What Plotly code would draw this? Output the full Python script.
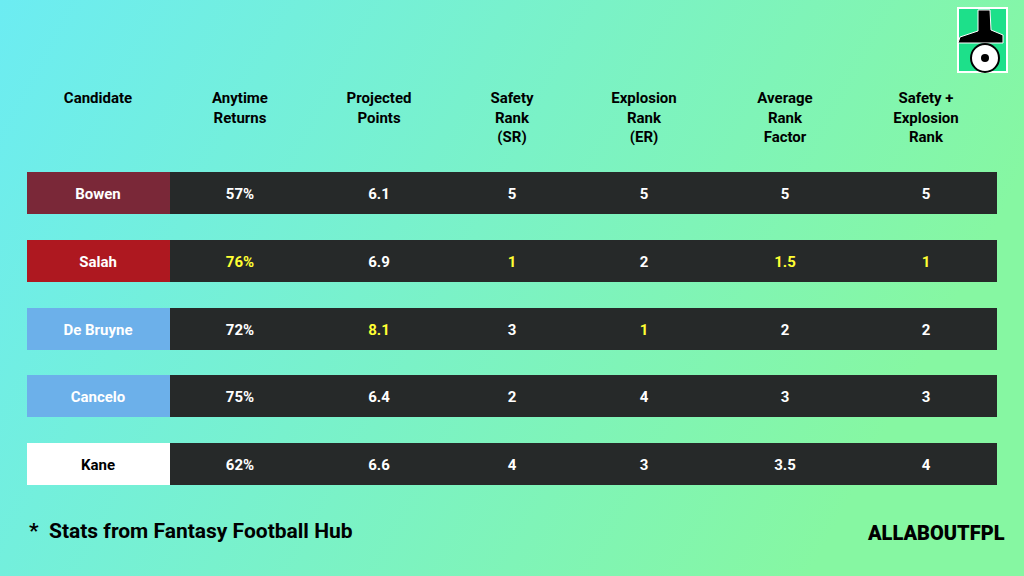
import plotly.graph_objects as go
import base64

players = ["Bowen", "Salah", "De Bruyne", "Cancelo", "Kane"]
anytime = ["57%", "76%", "72%", "75%", "62%"]
projected = ["6.1", "6.9", "8.1", "6.4", "6.6"]
safety = ["5", "1", "3", "2", "4"]
explosion = ["5", "2", "1", "4", "3"]
avg_rank = ["5", "1.5", "2", "3", "3.5"]
se_rank = ["5", "1", "2", "3", "4"]
headers = ["Candidate", "Anytime<br>Returns", "Projected<br>Points", "Safety<br>Rank<br>(SR)",
           "Explosion<br>Rank<br>(ER)", "Average<br>Rank<br>Factor", "Safety +<br>Explosion<br>Rank"]
name_colors = ["#7a2838", "#ae1820", "#6cb0ea", "#6cb0ea", "#ffffff"]
name_text = ["white", "white", "white", "white", "black"]
highlights = {(1, 1), (1, 3), (1, 5), (1, 6), (2, 2), (2, 4)}

col_x = [98, 240, 379, 512, 644, 785, 926]
row_y = [193, 261, 329, 396, 464]
row_h = 42

svg = ('<svg xmlns="http://www.w3.org/2000/svg" width="1024" height="576">'
       '<defs><linearGradient id="g" x1="0" y1="0" x2="1" y2="0.3">'
       '<stop offset="0" stop-color="#6cecf2"/><stop offset="1" stop-color="#86f7a2"/>'
       '</linearGradient></defs><rect width="1024" height="576" fill="url(#g)"/></svg>')
bg = "data:image/svg+xml;base64," + base64.b64encode(svg.encode()).decode()

fig = go.Figure()
shapes = []
for i, y in enumerate(row_y):
    shapes.append(dict(type="rect", x0=170, x1=997, y0=y - row_h / 2, y1=y + row_h / 2,
                       fillcolor="#262929", line_width=0, layer="below"))
    shapes.append(dict(type="rect", x0=27, x1=170, y0=y - row_h / 2, y1=y + row_h / 2,
                       fillcolor=name_colors[i], line_width=0, layer="below"))
shapes.append(dict(type="rect", x0=958, x1=1007, y0=8, y1=72, fillcolor="#1de08a",
                   line=dict(color="white", width=2)))
shapes.append(dict(type="path", path="M 978 10 L 990 10 L 991 30 L 1003 35 L 1003 43 L 958 43 L 960 37 L 978 31 Z",
                   fillcolor="black", line=dict(color="white", width=1)))
shapes.append(dict(type="circle", x0=971, x1=999, y0=44, y1=72, fillcolor="white",
                   line=dict(color="black", width=2)))
shapes.append(dict(type="circle", x0=981, x1=989, y0=54, y1=62, fillcolor="black", line_width=0))

fig.add_trace(go.Scatter(x=col_x, y=[92] * 7, text=headers, mode="text", textposition="bottom center",
                         textfont=dict(family="Roboto", size=15, color="black", weight="bold"),
                         hoverinfo="skip"))
cols = [players, anytime, projected, safety, explosion, avg_rank, se_rank]
xs, ys, ts, cs = [], [], [], []
for c, vals in enumerate(cols):
    for r, v in enumerate(vals):
        xs.append(col_x[c]); ys.append(row_y[r] + 2); ts.append(v)
        if c == 0:
            cs.append(name_text[r])
        elif (r, c) in highlights:
            cs.append("#ffff33")
        else:
            cs.append("white")
fig.add_trace(go.Scatter(x=xs, y=ys, text=ts, mode="text",
                         textfont=dict(family="Roboto", size=15, color=cs, weight="bold"),
                         hoverinfo="skip"))

fig.add_annotation(x=27, y=531, xanchor="left", showarrow=False,
                   text="*  Stats from Fantasy Football Hub",
                   font=dict(family="Roboto", size=21, color="black", weight="bold"))
fig.add_annotation(x=1007, y=533, xanchor="right", showarrow=False, text="ALLABOUTFPL",
                   font=dict(family="Roboto", size=20, color="black", weight=900))

fig.update_layout(width=1024, height=576, margin=dict(l=0, r=0, t=0, b=0),
                  showlegend=False, shapes=shapes,
                  paper_bgcolor="#70eedc", plot_bgcolor="rgba(0,0,0,0)",
                  images=[dict(source=bg, xref="paper", yref="paper", x=0, y=1, sizex=1, sizey=1,
                               sizing="stretch", layer="below", xanchor="left", yanchor="top")],
                  xaxis=dict(range=[0, 1024], visible=False, fixedrange=True),
                  yaxis=dict(range=[576, 0], visible=False, fixedrange=True))
html = fig.to_html(config={"displayModeBar": False})
html = html.replace("<head>", "<head><style>html,body{margin:0;padding:0;overflow:hidden;}</style>", 1)
with open("out.html", "w", encoding="utf-8") as f:
    f.write(html)
